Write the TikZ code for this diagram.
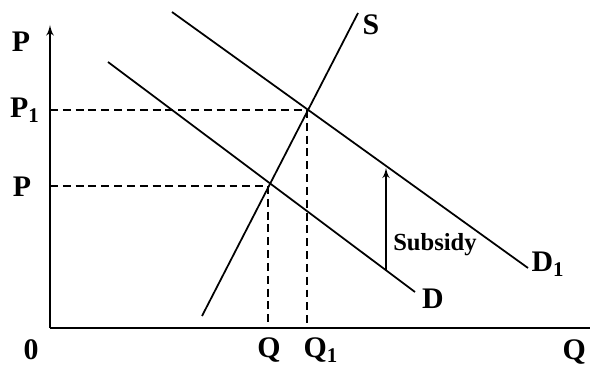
\documentclass[tikz,border=0pt]{standalone}
\usepackage{fontspec}
\setmainfont{Liberation Serif}
\usetikzlibrary{arrows, positioning}

\begin{document}
\begin{tikzpicture}[
    x=0.02cm, y=-0.02cm,
    axis/.style={draw, line width=1.1pt},
    curve/.style={draw, line width=1pt},
    guide/.style={draw, line width=1pt, dash pattern=on 4.5pt off 2.8pt},
    line/.style={draw, -latex', line width=1pt},
    lbl/.style={font=\bfseries\fontsize{17}{19}\selectfont, inner sep=1pt}
]
    \useasboundingbox (0,0) rectangle (590,367);

    % Points
    \coordinate (origin) at (50,328);
    \coordinate (ytop) at (50,25);
    \coordinate (xend) at (590,328);
    \coordinate (slow) at (202,316);
    \coordinate (shigh) at (358,13);
    \coordinate (dstart) at (108,62);
    \coordinate (dend) at (415,292);
    \coordinate (donestart) at (172,12);
    \coordinate (doneend) at (528,268);
    \coordinate (eq) at (268,186);
    \coordinate (eqone) at (307,110);
    \coordinate (subbase) at (386,271);
    \coordinate (subtop) at (386,168);

    % Labels
    \node (plabel) [lbl] at (21,42) {P};
    \node (ponelabel) [lbl] at (25,110) {P\textsubscript{1}};
    \node (peqlabel) [lbl] at (22,187) {P};
    \node (zero) [lbl] at (31,350) {0};
    \node (qeqlabel) [lbl] at (269,350) {Q};
    \node (qonelabel) [lbl] at (321,350) {Q\textsubscript{1}};
    \node (qlabel) [lbl, anchor=east] at (588,352) {Q};
    \node (slabel) [lbl] at (371,25) {S};
    \node (dlabel) [lbl] at (433,299) {D};
    \node (donelabel) [lbl] at (548,264) {D\textsubscript{1}};
    \node (sublabel) [lbl, font=\bfseries\fontsize{14}{16}\selectfont] at (435,245) {Subsidy};

    % Axes
    \draw [axis, -latex'] (origin) -- (ytop);
    \draw [axis] (origin) -- (xend);

    % Curves
    \draw [curve] (slow) -- (shigh);
    \draw [curve] (dstart) -- (dend);
    \draw [curve] (donestart) -- (doneend);

    % Guides
    \draw [guide] (origin |- eqone) -- (eqone);
    \draw [guide] (origin |- eq) -- (eq);
    \draw [guide] (eq) -- (eq |- origin);
    \draw [guide] (eqone) -- (eqone |- origin);

    % Subsidy
    \draw [line] (subbase) -- (subtop);
\end{tikzpicture}
\end{document}
